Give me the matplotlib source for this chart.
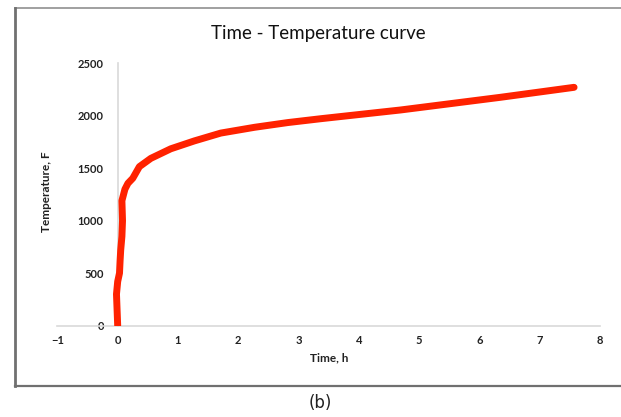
import matplotlib
matplotlib.use("Agg")
import matplotlib.pyplot as plt
from matplotlib.lines import Line2D

# time [h] and temperature [F]
time_h = [0, -0.01, -0.02, 0.0, 0.03, 0.04, 0.05, 0.07, 0.08, 0.07, 0.12, 0.17,
          0.25, 0.36, 0.55, 0.88, 1.27, 1.71, 2.27, 2.82, 3.37, 4.69, 6.35, 7.57]
temp_f = [0, 150, 300, 420, 500, 620, 720, 850, 1000, 1190, 1300, 1356,
          1404, 1515, 1594, 1685, 1760, 1835, 1890, 1935, 1972, 2055, 2176, 2271]

x_ticks = list(range(-1, 9))
y_ticks = [0, 500, 1000, 1500, 2000, 2500]

W, H = 621, 417
fig = plt.figure(figsize=(W/100, H/100), dpi=100)
ax = fig.add_axes([57.4/W, 1-325.6/H, (600-57.4)/W, (325.6-63.3)/H])

ax.plot(time_h, temp_f, color="#ff2200", lw=5.0, solid_capstyle="round",
        solid_joinstyle="round", zorder=3)

ax.set_xlim(-1, 8)
ax.set_ylim(0, 2500)
ax.set_xticks(x_ticks)
ax.set_yticks(y_ticks)
for s in ["top", "right"]:
    ax.spines[s].set_visible(False)
ax.spines["left"].set_position(("data", 0))
ax.spines["bottom"].set_position(("data", 0))
for s in ["left", "bottom"]:
    ax.spines[s].set_color("#d9d9d9")
    ax.spines[s].set_linewidth(1.2)
ax.tick_params(length=0, labelsize=8, colors="#222222")
ax.tick_params(axis="x", pad=7)
ax.tick_params(axis="y", pad=10)
for lab in ax.get_xticklabels() + ax.get_yticklabels():
    lab.set_family("Lato")
    lab.set_fontweight("bold")

fig.text(329/W, 1-358/H, "Time, h", ha="center", va="center", fontsize=8.5,
         family="Lato", fontweight="bold", color="#222222")
fig.text(46/W, 1-192/H, "Temperature, F", ha="center", va="center", fontsize=8.5,
         family="Lato", fontweight="bold", color="#222222", rotation=90)
fig.text(318/W, 1-33/H, "Time - Temperature curve", ha="center", va="center",
         fontsize=13.5, family="Lato", color="#111111")

# outer frame (right edge falls outside the picture)
x0, x1, y0, y1 = 14.7/W, 1.0, 1-7.5/H, 1-386/H
fig.lines.append(Line2D([x0, x1], [y0, y0], transform=fig.transFigure,
                        color="#909090", lw=1.2))
fig.lines.append(Line2D([x0, x0], [y0, y1], transform=fig.transFigure,
                        color="#707070", lw=2.0))
fig.lines.append(Line2D([x0, x1], [y1, y1], transform=fig.transFigure,
                        color="#707070", lw=1.6))
fig.text(320/W, 1-403/H, "(b)", ha="center", va="center", fontsize=12,
         family="DejaVu Sans", color="#222222")

fig.savefig("out.png", dpi=100)
